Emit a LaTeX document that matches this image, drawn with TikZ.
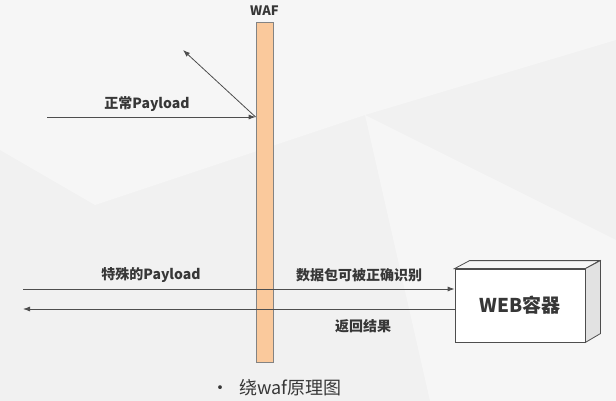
\documentclass[tikz,border=0pt]{standalone}
\usepackage{fontspec}
\setmainfont{Noto Sans CJK SC}
\usetikzlibrary{arrows.meta}
\definecolor{wafcolor}{RGB}{250,201,156}
\definecolor{linegray}{RGB}{78,78,78}
\definecolor{textgray}{RGB}{55,55,55}
\definecolor{bggray}{RGB}{241,241,241}
\definecolor{bglight}{RGB}{246,246,246}
\definecolor{sidegray}{RGB}{226,226,226}
\begin{document}
\begin{tikzpicture}[x=1pt,y=-1pt,
	txt/.style={font=\bfseries\fontsize{14}{16}\selectfont,text=textgray},
	flow/.style={draw=linegray,line width=0.8pt,-{Latex[length=7pt,width=5pt]}}]
	\useasboundingbox (0,0) rectangle (616,401);
	% background
	\fill[bggray] (0,0) rectangle (616,401);
	\fill[bglight] (0,0) -- (616,0) -- (616,40) -- (365,115) -- (95,205) -- (0,150) -- cycle;
	\fill[bglight] (365,115) -- (616,240) -- (616,401) -- (430,401) -- cycle;
	% the waf
	\node [draw=linegray!70,fill=wafcolor,line width=0.8pt,minimum width=17pt,minimum height=340pt,inner sep=0pt] (waf) at (264.5,192) {};
	\node [txt,font=\bfseries\fontsize{13}{15}\selectfont] (waftitle) at (264.5,11) {WAF};
	% web container
	\node [draw=linegray,fill=white,line width=0.8pt,minimum width=130pt,minimum height=73pt,inner sep=0pt,
		font=\bfseries\fontsize{19}{21}\selectfont,text=textgray] (web) at (520,305.5) {WEB容器};
	\draw [linegray,line width=0.8pt,fill=bglight] (web.north west) -- ++(15,-8) -- ++(130,0) -- (web.north east) -- cycle;
	\draw [linegray,line width=0.8pt,fill=sidegray] (web.north east) -- ++(15,-8) -- ++(0,73) -- (web.south east) -- cycle;
	% normal payload
	\coordinate (src1) at (47,117);
	\coordinate (refl) at (183,50);
	\coordinate (hit) at (waf.west |- src1);
	\draw [flow] (src1) -- (hit);
	\draw [flow] (hit) -- (refl);
	\node [txt] (normal) at (147,104) {正常Payload};
	% special payload
	\coordinate (src2) at (23,289);
	\coordinate (dst2) at (23,309);
	\draw [flow] (src2) -- (web.west |- src2);
	\draw [flow] (web.west |- dst2) -- (dst2);
	\node [txt] (special) at (151,275) {特殊的Payload};
	\node [txt] (passed) at (359,275) {数据包可被正确识别};
	\node [txt] (back) at (363,326) {返回结果};
	% caption
	\node [anchor=west,font=\fontsize{18}{20}\selectfont,text=textgray] (caption) at (208,388) {•\hspace{10pt}绕waf原理图};
\end{tikzpicture}
\end{document}
